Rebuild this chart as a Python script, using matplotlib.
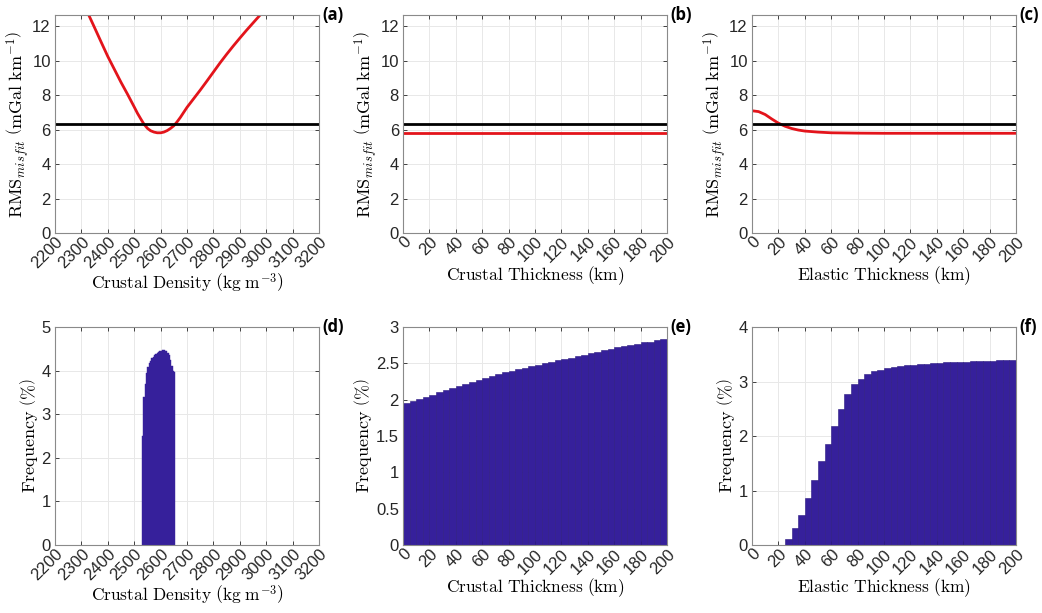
import matplotlib
matplotlib.use("Agg")
import matplotlib.pyplot as plt
import numpy as np

plt.rcParams['font.family'] = ['Liberation Sans', 'DejaVu Sans']
plt.rcParams['mathtext.fontset'] = 'cm'

# RMS misfit as a function of each parameter
density = [2300, 2325, 2350, 2375, 2400, 2425, 2450, 2475, 2500, 2512,
           2525, 2537, 2550, 2562, 2575, 2587, 2600, 2612, 2625, 2637,
           2650, 2662, 2675, 2687, 2700, 2725, 2750, 2775, 2800, 2825,
           2850, 2875, 2900, 2925, 2950, 2975, 3000]
rms_density = [13.6, 12.75, 11.92, 11.08, 10.25, 9.5, 8.75, 8.05, 7.32, 6.96,
               6.62, 6.32, 6.08, 5.94, 5.86, 5.82, 5.82, 5.86, 5.95, 6.07,
               6.23, 6.45, 6.72, 7.0, 7.3, 7.8, 8.3, 8.82, 9.35, 9.88,
               10.38, 10.86, 11.32, 11.77, 12.2, 12.63, 13.05]

crust_thick = [0, 50, 100, 150, 200]
rms_crust = [5.8, 5.8, 5.8, 5.8, 5.8]

elastic_thick = [0, 5, 10, 15, 20, 25, 30, 35, 40, 50, 60, 80, 100, 150, 200]
rms_elastic = [7.1, 7.05, 6.88, 6.62, 6.38, 6.2, 6.07, 5.98, 5.92, 5.86,
               5.82, 5.8, 5.79, 5.79, 5.79]

rms_threshold = 6.33

# histograms of accepted models (frequency in %)
dens_edges = np.arange(2530, 2655, 5)
dens_freq = [2.5, 3.4, 3.7, 3.95, 4.08, 4.17, 4.23, 4.28, 4.32, 4.35,
             4.38, 4.41, 4.43, 4.45, 4.46, 4.47, 4.47, 4.46, 4.44, 4.41,
             4.35, 4.25, 4.1, 4.0, 3.98]

tc_edges = np.arange(0, 200, 5)
tc_freq = [1.95, 1.98, 2.01, 2.04, 2.07, 2.10, 2.13, 2.16, 2.19, 2.22,
           2.25, 2.27, 2.30, 2.33, 2.35, 2.38, 2.40, 2.42, 2.44, 2.46,
           2.48, 2.50, 2.52, 2.54, 2.56, 2.58, 2.60, 2.62, 2.64, 2.66,
           2.68, 2.70, 2.72, 2.74, 2.75, 2.77, 2.79, 2.80, 2.82, 2.84]

te_edges = np.arange(0, 200, 5)
te_freq = [0, 0, 0, 0, 0, 0.11, 0.31, 0.56, 0.87, 1.19,
           1.54, 1.86, 2.19, 2.49, 2.77, 2.95, 3.05, 3.13, 3.19, 3.22,
           3.25, 3.27, 3.28, 3.30, 3.31, 3.32, 3.33, 3.34, 3.34, 3.35,
           3.35, 3.36, 3.36, 3.37, 3.37, 3.38, 3.38, 3.39, 3.39, 3.40]

dens_ticks = list(range(2200, 3201, 100))
thick_ticks = list(range(0, 201, 20))

rms_label = r'$\mathrm{RMS}_{misfit}\ \left(\mathrm{mGal\ km}^{-1}\right)$'
freq_label = r'$\mathrm{Frequency}\ \left(\%\right)$'
dens_label = r'$\mathrm{Crustal\ Density}\ \left(\mathrm{kg\ m}^{-3}\right)$'
tc_label = r'$\mathrm{Crustal\ Thickness}\ (\mathrm{km})$'
te_label = r'$\mathrm{Elastic\ Thickness}\ (\mathrm{km})$'

bar_color = '#36209b'
red = '#e3141b'

fig = plt.figure(figsize=(10.42, 6.13), dpi=100)

lefts = [0.0528, 0.3868, 0.7217]
width = 0.2534
top_bottom, bot_bottom, height = 0.6199, 0.1109, 0.3556

axes = []
for row_b in (top_bottom, bot_bottom):
    for l in lefts:
        axes.append(fig.add_axes([l, row_b, width, height]))


def style(ax, xticks, xlim, yticks, ylim, xlabel, ylabel, letter):
    ax.set_xlim(xlim)
    ax.set_ylim(ylim)
    ax.set_xticks(xticks)
    ax.set_xticklabels([str(t) for t in xticks], rotation=45, ha='right',
                       rotation_mode='anchor')
    ax.set_yticks(yticks)
    ax.set_yticklabels(['%g' % t for t in yticks])
    ax.tick_params(direction='in', length=3, width=0.6, top=True, right=True,
                   labelsize=12, colors='#262626', pad=3)
    ax.tick_params(axis='x', pad=1)
    ax.grid(True, color='#e8e8e8', linewidth=0.7)
    ax.set_axisbelow(True)
    for s in ax.spines.values():
        s.set_color('#8a8a8a')
        s.set_linewidth(0.8)
    ax.set_xlabel(xlabel, fontsize=12.5, labelpad=0)
    ax.set_ylabel(ylabel, fontsize=13, labelpad=1)
    ax.text(1.012, 1.0, letter, transform=ax.transAxes, ha='left', va='center',
            fontsize=12, fontweight='bold', family='Open Sans')


rms_ticks = [0, 2, 4, 6, 8, 10, 12]

ax = axes[0]
ax.plot(density, rms_density, color=red, lw=2)
ax.axhline(rms_threshold, color='black', lw=2)
style(ax, dens_ticks, (2200, 3200), rms_ticks, (0, 12.66), dens_label, rms_label, '(a)')

ax = axes[1]
ax.plot(crust_thick, rms_crust, color=red, lw=2)
ax.axhline(rms_threshold, color='black', lw=2)
style(ax, thick_ticks, (0, 200), rms_ticks, (0, 12.66), tc_label, rms_label, '(b)')

ax = axes[2]
ax.plot(elastic_thick, rms_elastic, color=red, lw=2)
ax.axhline(rms_threshold, color='black', lw=2)
style(ax, thick_ticks, (0, 200), rms_ticks, (0, 12.66), te_label, rms_label, '(c)')

ax = axes[3]
ax.bar(dens_edges, dens_freq, width=5, align='edge', color=bar_color,
       edgecolor=bar_color, linewidth=0.3)
style(ax, dens_ticks, (2200, 3200), [0, 1, 2, 3, 4, 5], (0, 5), dens_label, freq_label, '(d)')

ax = axes[4]
ax.bar(tc_edges, tc_freq, width=5, align='edge', color=bar_color,
       edgecolor='#2a1880', linewidth=0.4)
style(ax, thick_ticks, (0, 200), [0, 0.5, 1, 1.5, 2, 2.5, 3], (0, 3), tc_label, freq_label, '(e)')

ax = axes[5]
ax.bar(te_edges, te_freq, width=5, align='edge', color=bar_color,
       edgecolor='#2a1880', linewidth=0.4)
style(ax, thick_ticks, (0, 200), [0, 1, 2, 3, 4], (0, 4), te_label, freq_label, '(f)')

fig.savefig('out.png', dpi=100)
